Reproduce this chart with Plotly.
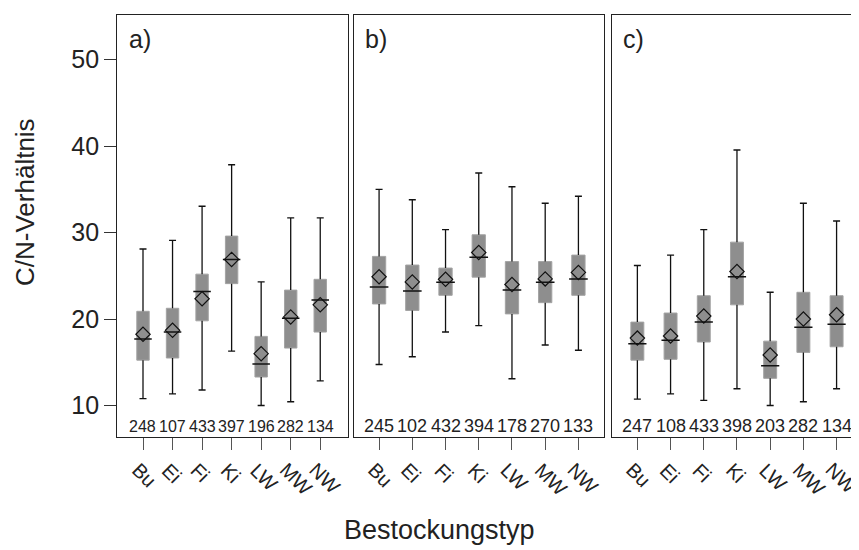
import plotly.graph_objects as go

categories = ["Bu", "Ei", "Fi", "Ki", "LW", "MW", "NW"]
y_ticks = [10, 20, 30, 40, 50]

# Panel a)
a_low = [10.8, 11.35, 11.8, 16.3, 10.0, 10.45, 12.85]
a_q1 = [15.25, 15.5, 19.8, 24.1, 13.3, 16.65, 18.5]
a_med = [17.7, 18.5, 23.2, 26.9, 14.8, 20.1, 22.2]
a_q3 = [20.9, 21.25, 25.2, 29.6, 18.0, 23.35, 24.6]
a_high = [28.1, 29.1, 33.05, 37.85, 24.3, 31.7, 31.7]
a_mean = [18.25, 18.7, 22.35, 26.9, 16.0, 20.25, 21.65]
a_n = [248, 107, 433, 397, 196, 282, 134]

# Panel b)
b_low = [14.75, 15.65, 18.5, 19.25, 13.1, 17.0, 16.4]
b_q1 = [21.75, 21.0, 22.75, 24.85, 20.6, 21.9, 22.75]
b_med = [23.7, 23.25, 24.25, 27.15, 23.35, 24.25, 24.65]
b_q3 = [27.25, 26.25, 25.9, 29.75, 26.65, 26.65, 27.4]
b_high = [35.0, 33.8, 30.35, 36.9, 35.3, 33.4, 34.2]
b_mean = [24.9, 24.3, 24.6, 27.7, 24.0, 24.65, 25.4]
b_n = [245, 102, 432, 394, 178, 270, 133]

# Panel c)
c_low = [10.75, 11.35, 10.6, 11.95, 10.0, 10.45, 11.95]
c_q1 = [15.25, 15.35, 17.35, 21.65, 13.15, 16.15, 16.8]
c_med = [17.15, 17.55, 19.65, 24.9, 14.6, 19.05, 19.4]
c_q3 = [19.65, 20.7, 22.7, 28.9, 17.45, 23.1, 22.7]
c_high = [26.2, 27.4, 30.35, 39.55, 23.1, 33.4, 31.35]
c_mean = [17.8, 18.05, 20.35, 25.5, 15.85, 20.0, 20.5]
c_n = [247, 108, 433, 398, 203, 282, 134]

panel_labels = ["a)", "b)", "c)"]
x_title = "Bestockungstyp"
y_title = "C/N-Verhältnis"

# page body has an 8px margin; figure fills the rest of the 859x550 window
OFF = 8
W, H = 859 - OFF, 550 - OFF
FONT = "Liberation Sans, Arial, sans-serif"
TXT = "#222222"


def px_x(p):
    return (p - OFF) / W


def px_y(p):
    return 1 - (p - OFF) / H


panels = [
    dict(low=a_low, q1=a_q1, med=a_med, q3=a_q3, high=a_high, mean=a_mean, n=a_n,
         dom=(117.3, 348.3), rng=(-0.87, 6.95), bw=0.42, medpx=12.5, nfont=16),
    dict(low=b_low, q1=b_q1, med=b_med, q3=b_q3, high=b_high, mean=b_mean, n=b_n,
         dom=(353.5, 604.0), rng=(-0.77, 6.77), bw=0.40, medpx=13.3, nfont=18),
    dict(low=c_low, q1=c_q1, med=c_med, q3=c_q3, high=c_high, mean=c_mean, n=c_n,
         dom=(611.8, 857.5), rng=(-0.77, 6.63), bw=0.39, medpx=13.0, nfont=18),
]

fig = go.Figure()
annotations = []

for i, p in enumerate(panels):
    xa = "x" if i == 0 else f"x{i+1}"
    ya = "y" if i == 0 else f"y{i+1}"
    # box body
    fig.add_trace(go.Bar(
        x=categories, base=p["q1"], y=[q3 - q1 for q1, q3 in zip(p["q1"], p["q3"])],
        width=p["bw"], marker=dict(color="#8e8e8e", line=dict(color="#a3a3a3", width=1)),
        xaxis=xa, yaxis=ya, showlegend=False, hoverinfo="skip"))
    # upper whisker
    fig.add_trace(go.Scatter(
        x=categories, y=p["q3"], mode="markers", marker=dict(size=1, opacity=0),
        error_y=dict(type="data", symmetric=False,
                     array=[h - q for h, q in zip(p["high"], p["q3"])],
                     arrayminus=[0] * len(categories), width=0, thickness=1.3, color="#111111"),
        xaxis=xa, yaxis=ya, showlegend=False, hoverinfo="skip"))
    # lower whisker
    fig.add_trace(go.Scatter(
        x=categories, y=p["q1"], mode="markers", marker=dict(size=1, opacity=0),
        error_y=dict(type="data", symmetric=False,
                     array=[0] * len(categories),
                     arrayminus=[q - l for q, l in zip(p["q1"], p["low"])],
                     width=0, thickness=1.3, color="#111111"),
        xaxis=xa, yaxis=ya, showlegend=False, hoverinfo="skip"))
    # whisker caps
    fig.add_trace(go.Scatter(
        x=categories + categories, y=p["high"] + p["low"], mode="markers",
        marker=dict(symbol="line-ew", size=5, line=dict(width=1.4, color="#111111")),
        xaxis=xa, yaxis=ya, showlegend=False, hoverinfo="skip"))
    # median
    fig.add_trace(go.Scatter(
        x=categories, y=p["med"], mode="markers",
        marker=dict(symbol="line-ew", size=p["medpx"], line=dict(width=1.5, color="#111111")),
        xaxis=xa, yaxis=ya, showlegend=False, hoverinfo="skip"))
    # mean
    fig.add_trace(go.Scatter(
        x=categories, y=p["mean"], mode="markers",
        marker=dict(symbol="diamond-open", size=11, color="#111111", line=dict(width=1.2)),
        xaxis=xa, yaxis=ya, showlegend=False, hoverinfo="skip"))

    # counts
    for c, n in zip(categories, p["n"]):
        annotations.append(dict(x=c, y=7.6, xref=xa, yref=ya, text=str(n), showarrow=False,
                                font=dict(size=p["nfont"], color=TXT, family=FONT),
                                xanchor="center", yanchor="middle"))
    # rotated category labels
    for c in categories:
        annotations.append(dict(x=c, y=px_y(456), xref=xa, yref="paper", text=c, showarrow=False,
                                textangle=45, xshift=-18,
                                font=dict(size=20, color=TXT, family=FONT),
                                xanchor="left", yanchor="top"))
    # panel label
    annotations.append(dict(x=px_x(p["dom"][0] + 9.5), y=px_y(39), xref="paper", yref="paper",
                            text=panel_labels[i], showarrow=False,
                            font=dict(size=25, color=TXT, family=FONT),
                            xanchor="left", yanchor="middle"))

    fig.layout[("xaxis" if i == 0 else f"xaxis{i+1}")] = dict(
        domain=[px_x(p["dom"][0]), px_x(p["dom"][1])], type="category",
        range=list(p["rng"]), anchor=ya, showline=True, mirror=True,
        linecolor="#222222", linewidth=1.4, ticks="outside", ticklen=12,
        tickcolor="#555555", tickwidth=1, showticklabels=False,
        showgrid=False, zeroline=False, fixedrange=True)
    yax = dict(domain=[px_y(436.7), px_y(14.7)], range=[6.4, 55.2], anchor=xa,
               showline=True, mirror=True, linecolor="#222222", linewidth=1.4,
               showgrid=False, zeroline=False, tickvals=y_ticks)
    if i == 0:
        yax.update(ticks="outside", ticklen=12, tickcolor="#333333", tickwidth=1,
                   tickfont=dict(size=25, color=TXT, family=FONT))
    else:
        yax.update(ticks="", showticklabels=False, matches="y")
    fig.layout[("yaxis" if i == 0 else f"yaxis{i+1}")] = yax

annotations.append(dict(x=px_x(25), y=px_y(202), xref="paper", yref="paper", text=y_title,
                        textangle=-90, showarrow=False,
                        font=dict(size=26, color=TXT, family=FONT),
                        xanchor="center", yanchor="middle"))
annotations.append(dict(x=px_x(439), y=px_y(530), xref="paper", yref="paper", text=x_title,
                        showarrow=False, font=dict(size=27, color=TXT, family=FONT),
                        xanchor="center", yanchor="middle"))

fig.update_layout(
    width=W, height=H, margin=dict(l=0, r=0, t=0, b=0),
    paper_bgcolor="white", plot_bgcolor="white", barmode="overlay",
    font=dict(family=FONT, color=TXT), annotations=annotations, showlegend=False)

fig.write_html("out.html")
